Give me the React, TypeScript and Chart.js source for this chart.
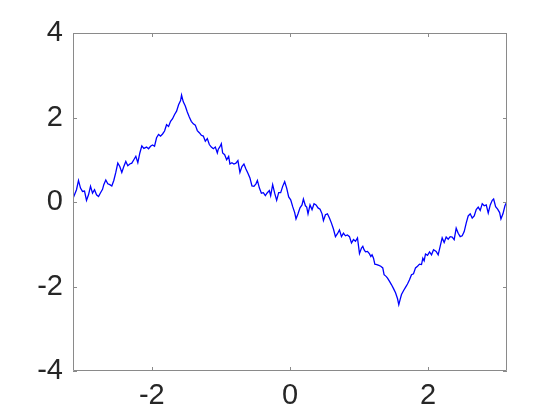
import React, { useEffect, useRef } from "react";
import { Chart, registerables } from "chart.js";

Chart.register(...registerables);

const xValues: number[] = [
  -3.142, -3.091, -3.062, -3.033, -3.004, -2.975, -2.946, -2.917, -2.888, -2.859,
  -2.830, -2.801, -2.772, -2.743, -2.714, -2.696, -2.667, -2.638, -2.609, -2.580,
  -2.551, -2.522, -2.493, -2.464, -2.435, -2.406, -2.377, -2.348, -2.319, -2.290,
  -2.261, -2.232, -2.203, -2.174, -2.145, -2.116, -2.077, -2.048, -2.019, -1.990,
  -1.961, -1.932, -1.903, -1.874, -1.845, -1.816, -1.787, -1.758, -1.729, -1.700,
  -1.671, -1.642, -1.613, -1.584, -1.570, -1.545, -1.516, -1.487, -1.458, -1.429,
  -1.400, -1.371, -1.342, -1.313, -1.284, -1.255, -1.226, -1.197, -1.168, -1.139,
  -1.110, -1.081, -1.052, -1.038, -1.014, -0.994, -0.975, -0.946, -0.917, -0.888,
  -0.870, -0.841, -0.812, -0.783, -0.754, -0.725, -0.696, -0.667, -0.638, -0.609,
  -0.580, -0.551, -0.522, -0.493, -0.472, -0.443, -0.414, -0.386, -0.357, -0.328,
  -0.299, -0.280, -0.251, -0.222, -0.193, -0.164, -0.135, -0.106, -0.077, -0.048,
  -0.019, 0.010, 0.039, 0.068, 0.087, 0.116, 0.145, 0.174, 0.194, 0.223,
  0.242, 0.261, 0.290, 0.319, 0.348, 0.377, 0.406, 0.435, 0.464, 0.484,
  0.513, 0.542, 0.571, 0.600, 0.629, 0.658, 0.687, 0.716, 0.745, 0.774,
  0.803, 0.832, 0.861, 0.890, 0.919, 0.948, 0.977, 1.006, 1.035, 1.054,
  1.072, 1.093, 1.122, 1.151, 1.170, 1.188, 1.209, 1.228, 1.257, 1.286,
  1.314, 1.343, 1.362, 1.391, 1.412, 1.441, 1.470, 1.499, 1.528, 1.557,
  1.575, 1.594, 1.614, 1.643, 1.672, 1.701, 1.730, 1.759, 1.788, 1.817,
  1.846, 1.875, 1.904, 1.923, 1.942, 1.962, 1.991, 2.020, 2.049, 2.078,
  2.116, 2.145, 2.174, 2.203, 2.232, 2.261, 2.290, 2.319, 2.348, 2.377,
  2.406, 2.435, 2.464, 2.493, 2.522, 2.551, 2.580, 2.609, 2.638, 2.667,
  2.696, 2.725, 2.754, 2.783, 2.812, 2.841, 2.870, 2.899, 2.928, 2.948,
  2.977, 3.006, 3.035, 3.054, 3.083, 3.112, 3.141,
];

const yValues: number[] = [
  0.08, 0.29, 0.51, 0.33, 0.25, 0.26, 0.04, 0.17, 0.37, 0.21,
  0.29, 0.17, 0.13, 0.22, 0.30, 0.41, 0.52, 0.43, 0.41, 0.38,
  0.51, 0.70, 0.92, 0.84, 0.70, 0.84, 0.96, 0.86, 0.90, 0.92,
  1.00, 1.08, 0.93, 1.16, 1.33, 1.27, 1.30, 1.26, 1.32, 1.35,
  1.32, 1.52, 1.60, 1.56, 1.61, 1.68, 1.83, 1.79, 1.91, 1.97,
  2.07, 2.15, 2.30, 2.40, 2.53, 2.37, 2.27, 2.13, 2.01, 1.91,
  1.85, 1.82, 1.69, 1.64, 1.58, 1.56, 1.44, 1.50, 1.36, 1.30,
  1.26, 1.30, 1.16, 1.25, 1.31, 1.38, 1.16, 1.12, 1.00, 1.08,
  0.90, 0.93, 0.90, 0.92, 0.98, 0.70, 0.84, 0.90, 0.78, 0.68,
  0.57, 0.38, 0.37, 0.43, 0.51, 0.33, 0.21, 0.22, 0.15, 0.22,
  0.27, 0.15, 0.41, 0.21, 0.04, 0.22, 0.22, 0.37, 0.48, 0.33,
  0.12, 0.05, -0.11, -0.25, -0.40, -0.28, -0.14, -0.07, 0.07, -0.09,
  -0.12, -0.28, -0.07, -0.18, -0.04, -0.07, -0.14, -0.17, -0.28, -0.44,
  -0.30, -0.28, -0.38, -0.50, -0.64, -0.82, -0.75, -0.66, -0.82, -0.74,
  -0.80, -0.78, -0.82, -0.97, -0.89, -0.93, -0.85, -1.22, -1.09, -1.05,
  -1.13, -1.18, -1.17, -1.23, -1.29, -1.25, -1.33, -1.47, -1.48, -1.50,
  -1.52, -1.56, -1.72, -1.76, -1.80, -1.88, -1.96, -2.05, -2.15, -2.29,
  -2.43, -2.31, -2.19, -2.10, -2.02, -1.94, -1.84, -1.72, -1.70, -1.56,
  -1.52, -1.47, -1.48, -1.33, -1.39, -1.23, -1.26, -1.18, -1.25, -1.13,
  -1.17, -1.25, -1.05, -0.85, -0.96, -0.83, -0.88, -0.82, -0.83, -0.89,
  -0.62, -0.74, -0.82, -0.80, -0.70, -0.50, -0.33, -0.28, -0.38, -0.33,
  -0.18, -0.12, -0.20, -0.04, -0.09, -0.07, -0.26, -0.07, 0.04, 0.07,
  -0.11, -0.17, -0.25, -0.40, -0.28, -0.09, 0.01,
];

const xTicks: number[] = [-2, 0, 2];
const yTicks: number[] = [-4, -2, 0, 2, 4];
const xMin = -Math.PI;
const xMax = Math.PI;
const yMin = -4;
const yMax = 4;

const AXIS_COLOR = "#8a8a8a";
const LABEL_COLOR = "#262626";
const FONT_FAMILY = "'Liberation Sans', Arial, Helvetica, sans-serif";

const boxPlugin = {
  id: "matlabBox",
  afterDraw(chart: any) {
    const { ctx, chartArea } = chart;
    const xs = chart.scales.x;
    const ys = chart.scales.y;
    const { left, right, top, bottom } = chartArea;
    const tl = 4;
    ctx.save();
    ctx.strokeStyle = AXIS_COLOR;
    ctx.lineWidth = 1;
    ctx.beginPath();
    ctx.rect(left + 0.5, top + 0.5, right - left - 1, bottom - top - 1);
    for (const v of xTicks) {
      const px = Math.round(xs.getPixelForValue(v)) + 0.5;
      ctx.moveTo(px, bottom);
      ctx.lineTo(px, bottom - tl);
      ctx.moveTo(px, top);
      ctx.lineTo(px, top + tl);
    }
    for (const v of yTicks) {
      const py = Math.round(ys.getPixelForValue(v)) + 0.5;
      ctx.moveTo(left, py);
      ctx.lineTo(left + tl, py);
      ctx.moveTo(right, py);
      ctx.lineTo(right - tl, py);
    }
    ctx.stroke();
    ctx.restore();
  },
};

export default function App() {
  const canvasRef = useRef<HTMLCanvasElement | null>(null);

  useEffect(() => {
    const canvas = canvasRef.current;
    if (!canvas) return;
    const points = xValues.map((x, i) => ({ x, y: yValues[i] }));
    const chart = new Chart(canvas, {
      type: "scatter",
      data: {
        datasets: [
          {
            data: points,
            showLine: true,
            borderColor: "#0000ff",
            borderWidth: 1.3,
            pointRadius: 0,
            fill: false,
            tension: 0,
          },
        ],
      },
      options: {
        responsive: false,
        animation: false,
        events: [],
        layout: { padding: { top: 33, right: 53, left: 0, bottom: 0 } },
        plugins: {
          legend: { display: false },
          tooltip: { enabled: false },
        },
        scales: {
          x: {
            type: "linear",
            min: xMin,
            max: xMax,
            grid: { display: false, drawTicks: false },
            border: { display: false },
            afterBuildTicks: (s: any) => {
              s.ticks = xTicks.map((v) => ({ value: v }));
            },
            afterFit: (s: any) => {
              s.height = 49;
            },
            ticks: {
              color: LABEL_COLOR,
              font: { family: FONT_FAMILY, size: 29 },
              padding: 8,
              maxRotation: 0,
              callback: (v: any) => String(v),
            },
          },
          y: {
            type: "linear",
            min: yMin,
            max: yMax,
            grid: { display: false, drawTicks: false },
            border: { display: false },
            afterBuildTicks: (s: any) => {
              s.ticks = yTicks.map((v) => ({ value: v }));
            },
            afterFit: (s: any) => {
              s.width = 73;
            },
            ticks: {
              color: LABEL_COLOR,
              font: { family: FONT_FAMILY, size: 29 },
              padding: 10,
              callback: (v: any) => String(v),
            },
          },
        },
      },
      plugins: [boxPlugin],
    });
    return () => chart.destroy();
  }, []);

  return (
    <div style={{ position: "absolute", left: 0, top: 0, width: 560, height: 420, background: "#fff" }}>
      <canvas ref={canvasRef} width={560} height={420} />
    </div>
  );
}
